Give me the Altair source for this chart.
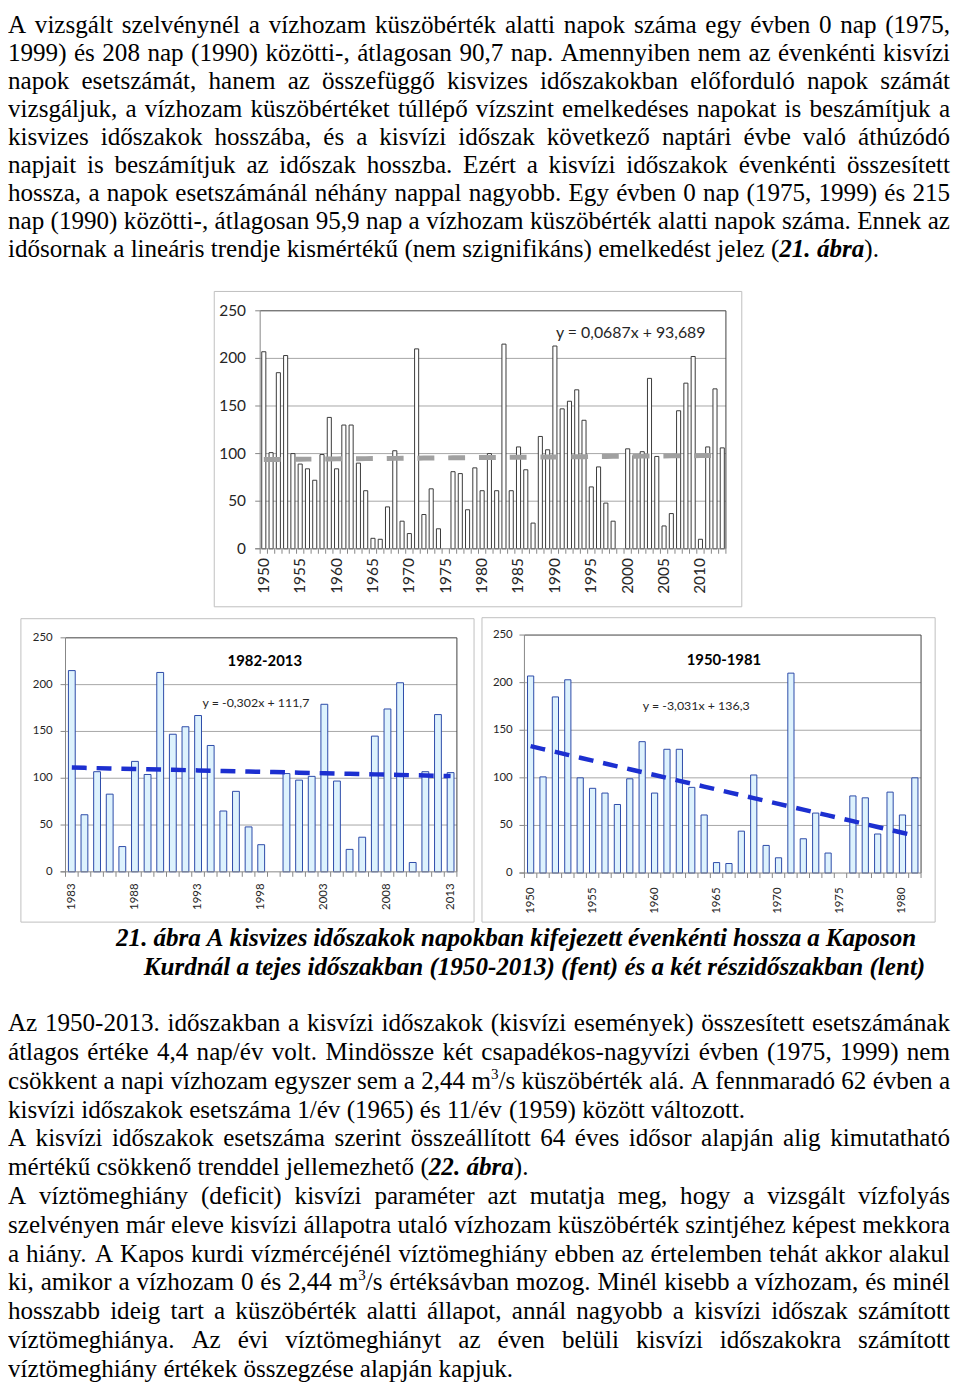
import altair as alt
import pandas as pd

# ---------------- data ----------------
years_1950_1981 = list(range(1950, 1982))
days_1950_1981 = [207, 101, 185, 203, 100, 89, 84, 72, 99, 138,
                  84, 130, 130, 90, 61, 11, 10, 44, 103, 29,
                  16, 210, 36, 63, 21, 0, 81, 79, 41, 85,
                  61, 100]
years_1982 = [1982]
days_1982 = [61]
years_1983_2013 = list(range(1983, 2014))
days_1983_2013 = [215, 61, 107, 83, 27, 118, 104, 213, 147, 155,
                  167, 135, 65, 86, 48, 29, 0, 105, 98, 102,
                  179, 97, 24, 37, 145, 174, 202, 10, 107, 168,
                  106]

trend_full = [0.0687, 93.689]
trend_late = [-0.302, 111.7]
trend_early = [-3.031, 136.3]

y_ticks = [0, 50, 100, 150, 200, 250]
xlab_full = [1950, 1955, 1960, 1965, 1970, 1975, 1980, 1985, 1990, 1995, 2000, 2005, 2010]
xlab_late = [1983, 1988, 1993, 1998, 2003, 2008, 2013]
xlab_early = [1950, 1955, 1960, 1965, 1970, 1975, 1980]

eq_full = "y = 0,0687x + 93,689"
eq_late = "y = -0,302x + 111,7"
eq_early = "y = -3,031x + 136,3"
title_late = "1982-2013"
title_early = "1950-1981"

para_top = [
    "A vizsgált szelvénynél a vízhozam küszöbérték alatti napok száma egy évben 0 nap (1975,",
    "1999) és 208 nap (1990) közötti-, átlagosan 90,7 nap. Amennyiben nem az évenkénti kisvízi",
    "napok esetszámát, hanem az összefüggő kisvizes időszakokban előforduló napok számát",
    "vizsgáljuk, a vízhozam küszöbértéket túllépő vízszint emelkedéses napokat is beszámítjuk a",
    "kisvizes időszakok hosszába, és a kisvízi időszak következő naptári évbe való áthúzódó",
    "napjait is beszámítjuk az időszak hosszba. Ezért a kisvízi időszakok évenkénti összesített",
    "hossza, a napok esetszámánál néhány nappal nagyobb. Egy évben 0 nap (1975, 1999) és 215",
    "nap (1990) közötti-, átlagosan 95,9 nap a vízhozam küszöbérték alatti napok száma. Ennek az",
    "idősornak a lineáris trendje kismértékű (nem szignifikáns) emelkedést jelez (*21. ábra*).",
]
para_top_last = [False] * 8 + [True]

caption = [
    "21. ábra A kisvizes időszakok napokban kifejezett évenkénti hossza a Kaposon",
    "Kurdnál a tejes időszakban (1950-2013) (fent) és a két részidőszakban (lent)",
]

para_bottom = [
    "Az 1950-2013. időszakban a kisvízi időszakok (kisvízi események) összesített esetszámának",
    "átlagos értéke 4,4 nap/év volt. Mindössze két csapadékos-nagyvízi évben (1975, 1999) nem",
    "csökkent a napi vízhozam egyszer sem a 2,44 m^3/s küszöbérték alá. A fennmaradó 62 évben a",
    "kisvízi időszakok esetszáma 1/év (1965) és 11/év (1959) között változott.",
    "A kisvízi időszakok esetszáma szerint összeállított 64 éves idősor alapján alig kimutatható",
    "mértékű csökkenő trenddel jellemezhető (*22. ábra*).",
    "A víztömeghiány (deficit) kisvízi paraméter azt mutatja meg, hogy a vizsgált vízfolyás",
    "szelvényen már eleve kisvízi állapotra utaló vízhozam küszöbérték szintjéhez képest mekkora",
    "a hiány. A Kapos kurdi vízmércéjénél víztömeghiány ebben az értelemben tehát akkor alakul",
    "ki, amikor a vízhozam 0 és 2,44 m^3/s értéksávban mozog. Minél kisebb a vízhozam, és minél",
    "hosszabb ideig tart a küszöbérték alatti állapot, annál nagyobb a kisvízi időszak számított",
    "víztömeghiánya. Az évi víztömeghiányt az éven belüli kisvízi időszakokra számított",
    "víztömeghiány értékek összegzése alapján kapjuk.",
]
para_bottom_last = [False, False, False, True, False, True, False, False, False, False, False, False, True]

# ---------------- layout (page pixels) ----------------
OFF = 8
W, H = 952, 1385
SERIF = "Liberation Serif"
SANS = "Lato"
FS = 25.3

# Times metrics (1/1000 em) for word widths used in justification
RM = {' ': 250, '!': 333, '(': 333, ')': 333, ',': 250, '-': 333, '.': 250, '/': 278,
      ':': 278, ';': 278, '?': 444, '+': 564, '=': 564, '%': 833}
RM.update({d: 500 for d in '0123456789'})
RM.update(dict(zip("ABCDEFGHIJKLMNOPQRSTUVWXYZ",
                   [722, 667, 667, 722, 611, 556, 722, 722, 333, 389, 722, 611, 889,
                    722, 722, 556, 722, 667, 556, 611, 722, 722, 944, 722, 722, 611])))
RM.update(dict(zip("abcdefghijklmnopqrstuvwxyz",
                   [444, 500, 444, 500, 444, 333, 500, 500, 278, 278, 500, 278, 778,
                    500, 500, 500, 500, 333, 389, 278, 500, 500, 722, 500, 500, 444])))
BI = dict(RM)
BI.update(dict(zip("ABCDEFGHIJKLMNOPQRSTUVWXYZ",
                   [667, 667, 667, 722, 667, 667, 722, 778, 389, 500, 667, 611, 889,
                    722, 722, 611, 722, 667, 556, 611, 722, 667, 889, 667, 611, 611])))
BI.update(dict(zip("abcdefghijklmnopqrstuvwxyz",
                   [500, 500, 444, 500, 444, 333, 500, 556, 278, 278, 500, 278, 778,
                    556, 500, 500, 500, 389, 389, 278, 556, 444, 667, 500, 444, 389])))
ACC = str.maketrans("áéíóöőúüűÁÉÍÓÖŐÚÜŰ", "aeiooouuuAEIOOOUUU")


def text_width(t, st, fs):
    tab = BI if st in ("bi", "cap") else RM
    return sum(tab.get(c, 500) for c in t.translate(ACC)) * fs / 1000.0


def parse(line, base):
    out, cur, sp, st = [], "", False, base
    i = 0
    while i < len(line):
        ch = line[i]
        if ch == "*":
            if cur:
                out.append((cur, st, sp)); cur, sp = "", False
            st = "bi" if st == base else base
        elif ch == "^":
            if cur:
                out.append((cur, st, sp)); cur, sp = "", False
            out.append((line[i + 1], "sup", False)); i += 1
        elif ch == " ":
            if cur:
                out.append((cur, st, sp)); cur = ""
            sp = True
        else:
            cur += ch
        i += 1
    if cur:
        out.append((cur, st, sp))
    return out


def layout_line(line, base, x0, x1, y, fs=FS):
    ps = parse(line, base)
    sizes = {"n": fs, "bi": fs, "cap": fs, "sup": fs * 0.6}
    widths = [text_width(t, s, sizes[s]) for t, s, _ in ps]
    nsp = sum(1 for p in ps if p[2])
    spw = 0.25 * fs
    natural = sum(widths) + nsp * spw
    if x1 is not None and nsp:
        spw += (x1 - x0 - natural) / nsp
    x, rows = x0, []
    for (t, s, sp), w in zip(ps, widths):
        if sp:
            x += spw
        yy = y - fs * 0.4 if s == "sup" else y
        rows.append({"t": t, "s": s, "x": x - OFF, "y": yy - OFF})
        x += w
    return rows


rows = []
for i, (ln, last) in enumerate(zip(para_top, para_top_last)):
    rows += layout_line(ln, "n", 8, None if last else 958, 27 + 28.25 * i)
rows += layout_line(caption[0], "cap", 117, 924, 948)
rows += layout_line(caption[1], "cap", 145, 933, 977)
for i, (ln, last) in enumerate(zip(para_bottom, para_bottom_last)):
    rows += layout_line(ln, "n", 8, None if last else 958, 1034 + 29.05 * i)
text_df = pd.DataFrame(rows)


def text_layer(style, size, weight="normal", fstyle="normal"):
    return alt.Chart(text_df).transform_filter(f"datum.s == '{style}'").mark_text(
        align="left", baseline="alphabetic", font=SERIF, fontSize=size,
        fontWeight=weight, fontStyle=fstyle, color="black"
    ).encode(x=alt.X("x:Q", scale=None), y=alt.Y("y:Q", scale=None), text="t:N")


def one_row():
    return pd.DataFrame({"k": [0]})


def panel(years, vals, P):
    n = len(years)
    df = pd.DataFrame({"year": years, "days": vals, "idx": list(range(1, n + 1))})
    L, R, T, B = P["L"] - OFF, P["R"] - OFF, P["T"] - OFF, P["B"] - OFF
    xs = alt.Scale(domain=[years[0] - 0.5, years[-1] + 0.5], range=[L, R], nice=False, zero=False)
    ys = alt.Scale(domain=[0, 250], range=[B, T], nice=False, zero=False)
    fx0, fy0, fx1, fy1 = [v - OFF for v in P["frame"]]
    layers = []
    layers.append(alt.Chart(one_row()).mark_rect(fill="white", stroke="#BFBFBF", strokeWidth=1).encode(
        x=alt.value(fx0), x2=alt.value(fx1), y=alt.value(fy0), y2=alt.value(fy1)))
    grid = pd.DataFrame({"v": [50, 100, 150, 200]})
    layers.append(alt.Chart(grid).mark_rule(color="#A6A6A6", strokeWidth=1).encode(
        y=alt.Y("v:Q", scale=ys, axis=None), x=alt.value(L), x2=alt.value(R)))
    layers.append(alt.Chart(pd.DataFrame({"v": [250]})).mark_rule(color="#404040", strokeWidth=1).encode(
        y=alt.Y("v:Q", scale=ys, axis=None), x=alt.value(L), x2=alt.value(R)))
    layers.append(alt.Chart(one_row()).mark_rule(color="#404040", strokeWidth=1).encode(
        x=alt.value(R), y=alt.value(T), y2=alt.value(B)))
    # bars
    hw = P["hw"]
    layers.append(alt.Chart(df).transform_filter("datum.days > 0").transform_calculate(
        x0=f"datum.year - {hw}", x1=f"datum.year + {hw}").mark_bar(
        fill=P["fill"], stroke=P["stroke"], strokeWidth=1).encode(
        x=alt.X("x0:Q", scale=xs, axis=None), x2="x1:Q",
        y=alt.Y("days:Q", scale=ys, axis=None), y2=alt.datum(0)))
    # axes
    layers.append(alt.Chart(one_row()).mark_rule(color="#868686", strokeWidth=1).encode(
        x=alt.value(L), y=alt.value(T), y2=alt.value(B)))
    layers.append(alt.Chart(pd.DataFrame({"v": [0]})).mark_rule(color="#868686", strokeWidth=1).encode(
        y=alt.Y("v:Q", scale=ys, axis=None), x=alt.value(L - 5), x2=alt.value(R)))
    layers.append(alt.Chart(pd.DataFrame({"v": y_ticks})).mark_rule(color="#868686", strokeWidth=1).encode(
        y=alt.Y("v:Q", scale=ys, axis=None), x=alt.value(L - 5), x2=alt.value(L)))
    bnd = pd.DataFrame({"b": [y - 0.5 for y in years] + [years[-1] + 0.5]})
    layers.append(alt.Chart(bnd).mark_rule(color="#868686", strokeWidth=1).encode(
        x=alt.X("b:Q", scale=xs, axis=None), y=alt.value(B), y2=alt.value(B + 5)))
    ylab = pd.DataFrame({"v": y_ticks, "lab": [str(v) for v in y_ticks]})
    layers.append(alt.Chart(ylab).mark_text(align="right", baseline="middle", font=SANS,
                                            fontSize=P["lfs"], color="#262626").encode(
        y=alt.Y("v:Q", scale=ys, axis=None), x=alt.value(P["ylab_x"] - OFF), text="lab:N"))
    xlab = pd.DataFrame({"year": P["xlabs"], "lab": [str(v) for v in P["xlabs"]]})
    layers.append(alt.Chart(xlab).mark_text(align="right", baseline="middle", angle=270, font=SANS,
                                            fontSize=P["lfs"], color="#262626").encode(
        x=alt.X("year:Q", scale=xs, axis=None), y=alt.value(P["xlab_y"] - OFF), text="lab:N"))
    # trend line from the printed equation
    a, b = P["trend"]
    layers.append(alt.Chart(df).transform_calculate(tr=f"{a} * datum.idx + {b}").mark_line(
        color=P["tcolor"], strokeWidth=P["twidth"], strokeDash=P["tdash"], strokeCap="butt").encode(
        x=alt.X("year:Q", scale=xs, axis=None), y=alt.Y("tr:Q", scale=ys, axis=None)))
    # equation and title
    ex, ey = P["eq_pos"]
    layers.append(alt.Chart(pd.DataFrame({"t": [P["eq"]]})).mark_text(
        align="center", baseline="middle", font=SANS, fontSize=P["efs"], color="#262626").encode(
        x=alt.value(ex - OFF), y=alt.value(ey - OFF), text="t:N"))
    if P.get("title"):
        tx, ty = P["title_pos"]
        layers.append(alt.Chart(pd.DataFrame({"t": [P["title"]]})).mark_text(
            align="center", baseline="middle", font=SANS, fontSize=P["tfs"], fontWeight="bold",
            color="black").encode(x=alt.value(tx - OFF), y=alt.value(ty - OFF), text="t:N"))
    return layers


P_full = dict(L=262.3, R=732.0, T=307.5, B=547.5, frame=(216, 288, 748, 606), hw=0.28,
              ylab_x=248, xlab_y=557, lfs=15.5, xlabs=xlab_full,
              fill="white", stroke="#3A3A3A", trend=trend_full, tcolor="#A0A0A0",
              twidth=5, tdash=[17, 14], eq=eq_full, eq_pos=(636, 330), efs=16)
P_late = dict(L=66.0, R=460.7, T=637.3, B=873.3, frame=(21, 618, 478, 924), hw=0.27,
              ylab_x=53, xlab_y=885, lfs=11.5, xlabs=xlab_late,
              fill="#DDF2FD", stroke="#2C4AA8", trend=trend_late, tcolor="#1C2FD0",
              twidth=4.5, tdash=[15, 10], eq=eq_late, eq_pos=(258, 703), efs=12.5,
              title=title_late, title_pos=(267, 661), tfs=15)
P_early = dict(L=528.8, R=928.8, T=634.5, B=874.5, frame=(486, 617, 943, 924), hw=0.25,
               ylab_x=517, xlab_y=889, lfs=11.5, xlabs=xlab_early,
               fill="#DDF2FD", stroke="#2C4AA8", trend=trend_early, tcolor="#1C2FD0",
               twidth=4.5, tdash=[15, 10], eq=eq_early, eq_pos=(702, 706), efs=12.5,
               title=title_early, title_pos=(730, 660), tfs=15)

layers = []
layers += panel(years_1950_1981 + years_1982 + years_1983_2013,
                days_1950_1981 + days_1982 + days_1983_2013, P_full)
layers += panel(years_1983_2013, days_1983_2013, P_late)
layers += panel(years_1950_1981, days_1950_1981, P_early)
layers.append(text_layer("n", FS))
layers.append(text_layer("bi", FS, "bold", "italic"))
layers.append(text_layer("sup", FS * 0.6))
layers.append(text_layer("cap", FS, "bold", "italic"))

chart = alt.layer(*layers).resolve_scale(x="independent", y="independent").properties(
    width=W, height=H, autosize=alt.AutoSizeParams(type="none"), padding=0
).configure_view(stroke=None)

chart.save("out.html", embed_options={"renderer": "svg", "actions": False})
